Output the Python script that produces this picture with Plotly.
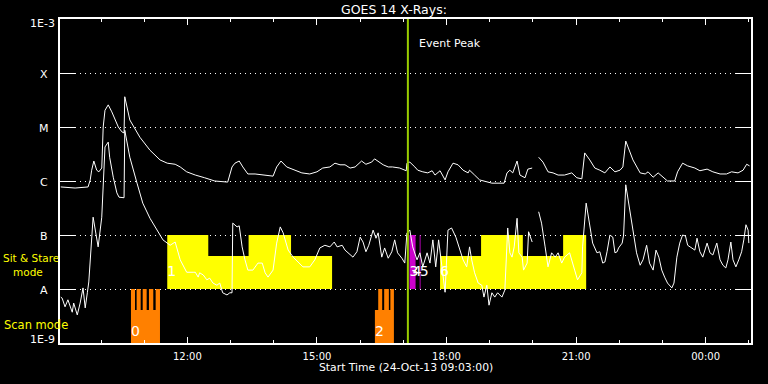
import pandas as pd
import plotly.graph_objects as go

START = pd.Timestamp("2013-10-24 09:03:00")
SPAN_MIN = 960

# GOES 14 long channel (1-8 A): minutes after start, log10 flux (W/m^2)
long_t = [1, 21, 39, 42, 44, 47, 51, 54, 58, 60,
          62.5, 67, 72, 81, 86, 89, 90, 97, 111, 125,
          139, 149, 160, 167, 176, 188, 201, 215, 233, 239,
          243, 249, 254, 261, 271, 281, 296, 301, 307, 315,
          326, 336, 347, 357, 365, 375, 382, 389, 396, 403,
          410, 419, 425, 433, 437, 444, 449, 456, 462, 472,
          481, 482, 486, 493, 497, 504, 511, 517, 521, 528,
          535, 539, 546, 553, 560, 567, 569, 576, 583, 600,
          617, 621, 625, 629, 635, 639, 646, 650, 656, 660,
          665, 671, 678, 685, 692, 701, 711, 718, 725, 729,
          736, 743, 750, 757, 764, 771, 778, 782, 786, 792,
          796, 806, 813, 817, 824, 831, 838, 844, 854, 858,
          865, 872, 882, 889, 899, 907, 917, 926, 933, 942,
          949, 954, 958]
long_log = [-6.11, -6.13, -6.11, -5.98, -5.80, -5.63, -5.80, -5.83, -5.76, -5.00,
            -4.69, -4.59, -4.72, -5.00, -5.09, -5.11, -4.44, -4.87, -5.19, -5.43,
            -5.61, -5.67, -5.69, -5.74, -5.83, -5.89, -5.94, -6.00, -6.02, -5.74,
            -5.67, -5.63, -5.74, -5.87, -5.87, -5.89, -5.91, -5.74, -5.63, -5.74,
            -5.80, -5.85, -5.87, -5.83, -5.76, -5.74, -5.67, -5.70, -5.70, -5.76,
            -5.74, -5.63, -5.69, -5.65, -5.59, -5.65, -5.70, -5.74, -5.74, -5.76,
            -5.81, -5.67, -5.65, -5.74, -5.80, -5.83, -5.85, -5.81, -5.89, -5.81,
            -5.98, -5.83, -5.67, -5.70, -5.80, -5.85, -5.80, -5.89, -5.98, -6.04,
            -6.04, -5.85, -5.80, -5.85, -5.63, -5.89, -5.94, -5.78, -5.76, None,
            -5.56, -5.65, -5.83, -5.85, -5.89, -5.89, -5.85, -5.94, -5.96, -5.48,
            -5.61, -5.76, -5.80, -5.85, -5.74, -5.83, -5.80, -5.74, -5.26, -5.46,
            -5.61, -5.85, -5.87, -5.83, -5.93, -5.85, -5.93, -6.00, -6.00, -5.83,
            -5.67, -5.72, -5.76, -5.81, -5.78, -5.83, -5.87, -5.87, -5.83, -5.85,
            -5.80, -5.69, -5.72]

# GOES 14 short channel (0.5-4 A)
short_t = [1, 3, 7, 11, 17, 19, 24, 28, 32, 35,
           38, 40, 46, 51, 53, 58, 60, 62.5, 67, 69,
           74, 79, 82, 88, 89, 90, 97, 107, 115, 125,
           135, 143, 153, 160, 167, 176, 185, 188, 192, 194,
           199, 204, 208, 212.5, 218, 222, 226, 232, 236, 239,
           240, 246, 249, 253, 257, 261, 268, 275, 281, 285,
           289, 296, 301, 306, 310, 317, 324, 331, 337.5, 347,
           354, 361, 368, 375, 381, 385, 392, 396, 403, 407,
           412.5, 417, 421, 425, 429, 435, 439, 442, 447, 451,
           456, 461, 465, 469, 475, 479, 482, 486, 490, 496,
           500, 504, 510, 514, 518, 522, 526, 532, 535, 539,
           544, 550, 556, 560, 565, 569, 572, 576, 581, 586,
           589, 593, 596, 600, 604, 608, 614, 618, 622, 625,
           628, 631, 635, 637.5, 642, 644, 649, 651, 656, 660,
           665, 669, 674, 678, 683, 688, 692, 697, 701, 708,
           715, 719, 725, 726, 731, 736, 740, 746, 750, 754,
           757, 760, 764, 768, 771, 774, 776, 781, 783, 786,
           790, 796, 801, 806, 810, 815, 819, 824, 828, 832,
           836, 840, 844, 850, 853, 857, 861, 865, 869, 872,
           878, 882, 885, 889, 893, 899, 903, 907, 912.5, 917,
           921, 925, 928, 932, 935, 939, 943, 947, 950, 953,
           956, 957]
short_log = [-8.15, -8.17, -8.33, -8.20, -8.43, -8.26, -8.48, -8.26, -7.98, -8.35,
             -8.07, -7.87, -6.67, -7.04, -7.22, -6.67, -6.17, -5.37, -5.28, -5.56,
             -5.93, -6.22, -6.30, -6.31, -6.31, -5.06, -5.56, -6.04, -6.41, -6.69,
             -6.91, -7.09, -7.19, -7.13, -7.46, -7.69, -7.69, -7.69, -7.78, -7.70,
             -7.74, -7.83, -7.80, -7.89, -7.93, -7.89, -8.07, -8.11, -8.07, -8.07,
             -6.78, -6.85, -6.83, -7.22, -7.46, -7.65, -7.65, -7.52, -7.52, -7.70,
             -7.78, -7.65, -7.15, -6.85, -6.96, -7.28, -7.41, -7.50, -7.59, -7.59,
             -7.46, -7.24, -7.19, -7.22, -7.13, -7.22, -7.19, -7.28, -7.37, -7.41,
             -7.31, -7.04, -7.13, -7.31, -7.19, -6.91, -7.06, -6.96, -7.41, -7.24,
             -7.43, -7.31, -7.09, -7.33, -7.43, -7.52, -6.96, -6.91, -7.22, -7.46,
             -7.33, -7.59, -7.33, -7.52, -7.09, -7.59, -7.09, -7.80, -8.06, -6.91,
             -6.87, -7.04, -7.28, -7.46, -7.59, -7.22, -7.46, -7.70, -7.89, -7.93,
             -8.15, -7.93, -8.30, -8.07, -8.15, -8.07, -8.15, -8.02, -6.87, -7.33,
             -7.41, -7.22, -6.69, -7.33, -7.41, -7.65, -7.52, -6.94, -7.13, None,
             -6.57, -6.78, -7.22, -7.59, -7.33, -7.41, -7.33, -7.52, -7.41, -7.33,
             -7.65, -7.83, -7.70, -7.22, -6.41, -6.85, -7.15, -7.33, -7.31, -7.52,
             -7.50, -7.31, -7.00, -7.04, -7.33, -7.31, -7.24, -7.15, -7.00, -6.07,
             -6.41, -6.96, -7.33, -7.56, -7.46, -7.19, -7.52, -7.65, -7.28, -7.41,
             -7.65, -7.78, -7.89, -7.98, -7.89, -7.41, -7.15, -7.00, -7.02, -7.19,
             -7.24, -7.28, -7.06, -7.31, -7.41, -7.15, -7.33, -7.37, -7.15, -7.46,
             -7.56, -7.61, -7.46, -7.13, -7.46, -7.59, -7.46, -7.31, -7.09, -6.81,
             -6.91, -7.15]

assert len(long_t) == len(long_log) and len(short_t) == len(short_log)

# Sit & Stare observations (yellow): start/end minutes, log10 top
ss_start = [149, 206, 262, 321, 528, 585, 643, 699]
ss_end = [206, 262, 321, 378, 585, 643, 699, 731]
ss_top = [-7.0, -7.39, -7.0, -7.39, -7.39, -7.0, -7.39, -7.0]

# Sit & Stare short observations (magenta)
mg_start = [485.5, 490, 499.7]
mg_end = [492, 494, 500.9]
mg_top = [-7.0, -7.0, -7.0]

# Scan observations (orange)
sc_start = [98.6, 98.6, 106.5, 114.9, 123.6, 132.9, 437.5, 442.1, 450.4, 459.0]
sc_end = [138.9, 104.2, 112.1, 120.4, 129.6, 138.9, 463.9, 447.6, 456.9, 463.9]
sc_top = [-8.39, -8.0, -8.0, -8.0, -8.0, -8.0, -8.39, -8.0, -8.0, -8.0]

# Observation block numbers
blk_label = ["0", "1", "2", "3", "4", "5", "6"]
blk_start = [98.6, 149, 437.5, 485.5, 490, 499.7, 528]
blk_mode = ["scan", "ss", "scan", "ss", "ss", "ss", "ss"]

event_peak_min = 483.3

levels = [-8, -7, -6, -5, -4]
level_names = ["A", "B", "C", "M", "X"]


def tt(m):
    return START + pd.Timedelta(minutes=m)


def rects(starts, ends, tops, bottom):
    xs, ys = [], []
    for s, e, t in zip(starts, ends, tops):
        xs += [tt(s), tt(s), tt(e), tt(e), tt(s), None]
        ys += [10 ** bottom, 10 ** t, 10 ** t, 10 ** bottom, 10 ** bottom, None]
    return xs, ys


fig = go.Figure()
for (st, en, tp, bot, col) in [(ss_start, ss_end, ss_top, -8, "#ffff00"),
                               (sc_start, sc_end, sc_top, -9, "#ff8000"),
                               (mg_start, mg_end, mg_top, -8, "#cc00cc")]:
    xs, ys = rects(st, en, tp, bot)
    fig.add_trace(go.Scatter(x=xs, y=ys, mode="lines", fill="toself",
                             fillcolor=col, line=dict(width=0, color=col),
                             hoverinfo="skip"))

for tl, vl in [(long_t, long_log), (short_t, short_log)]:
    fig.add_trace(go.Scatter(x=[tt(m) for m in tl],
                             y=[None if v is None else 10 ** v for v in vl],
                             mode="lines", line=dict(color="white", width=1),
                             connectgaps=False, hoverinfo="skip"))

lab_y = {"ss": 10 ** -7.69, "scan": 10 ** -8.81}
fig.add_trace(go.Scatter(x=[tt(m) for m in blk_start],
                         y=[lab_y[m] for m in blk_mode],
                         text=blk_label, mode="text", textposition="middle right",
                         textfont=dict(color="white", size=14, family="DejaVu Sans"),
                         hoverinfo="skip"))

fig.add_shape(type="line", xref="x", yref="paper",
              x0=tt(event_peak_min), x1=tt(event_peak_min), y0=0, y1=1,
              line=dict(color="#99cc00", width=2))

FONT = "DejaVu Sans"
ann = []
ann.append(dict(text="GOES 14 X-Rays:", xref="paper", yref="paper", x=0.4834, y=1.028,
                xanchor="center", yanchor="middle", showarrow=False,
                font=dict(size=12.5, color="white", family=FONT)))
ann.append(dict(text="Event Peak", xref="x", yref="y", x=tt(496.5), y=-3.445,
                xanchor="left", yanchor="middle", showarrow=False,
                font=dict(size=11, color="white", family=FONT)))
ann.append(dict(text="Start Time (24-Oct-13 09:03:00)", xref="paper", yref="paper",
                x=0.5, y=-0.077, xanchor="center", yanchor="middle", showarrow=False,
                font=dict(size=10.8, color="white", family=FONT)))
for lv, nm in zip(levels, level_names):
    ann.append(dict(text=nm, xref="paper", yref="y", x=-0.0232, y=lv, yshift=-1,
                    xanchor="center", yanchor="middle", showarrow=False,
                    font=dict(size=11, color="white", family=FONT)))
ann.append(dict(text="1E-3", xref="paper", yref="y", x=-0.0043, y=-3, yshift=-4.5,
                xanchor="right", yanchor="middle", showarrow=False,
                font=dict(size=11, color="white", family=FONT)))
ann.append(dict(text="1E-9", xref="paper", yref="y", x=-0.0043, y=-9, yshift=3.5,
                xanchor="right", yanchor="middle", showarrow=False,
                font=dict(size=11, color="white", family=FONT)))
ann.append(dict(text="Sit & Stare<br>&nbsp;&nbsp;&nbsp;mode", xref="paper", yref="paper",
                x=-0.0844, y=0.2405, align="left",
                xanchor="left", yanchor="middle", showarrow=False, borderpad=0,
                font=dict(size=10.5, color="#ffff00", family=FONT)))
ann.append(dict(text="Scan mode", xref="paper", yref="paper", x=-0.0844, y=0.057,
                xanchor="left", yanchor="middle", showarrow=False,
                font=dict(size=11.5, color="#ffff00", family=FONT)))

fig.update_layout(
    width=768, height=384,
    margin=dict(l=60, r=17, t=19, b=41),
    paper_bgcolor="black", plot_bgcolor="black",
    showlegend=False,
    font=dict(family=FONT, color="white", size=10),
    annotations=ann,
    xaxis=dict(type="date", range=[tt(0), tt(SPAN_MIN)],
               tickformat="%H:%M", dtick=3 * 3600000, tick0="2013-10-24 00:00",
               ticks="inside", ticklen=6, tickcolor="white", tickwidth=1,
               ticklabelstandoff=3,
               showline=True, linecolor="white", linewidth=1.5, mirror="ticks",
               showgrid=False, zeroline=False,
               tickfont=dict(size=10, color="white", family=FONT),
               minor=dict(dtick=3600000, tick0="2013-10-24 00:00", ticklen=3,
                          ticks="inside", tickcolor="white", showgrid=False)),
    yaxis=dict(type="log", range=[-9, -3],
               tickvals=[10 ** v for v in levels],
               ticks="inside", ticklen=15, tickcolor="white", tickwidth=1,
               showticklabels=False,
               showgrid=True, gridcolor="white", gridwidth=1, griddash="1px,4px",
               showline=True, linecolor="white", linewidth=1.5, mirror="ticks",
               zeroline=False),
)

fig.write_html("out.html", config={"displayModeBar": False})
